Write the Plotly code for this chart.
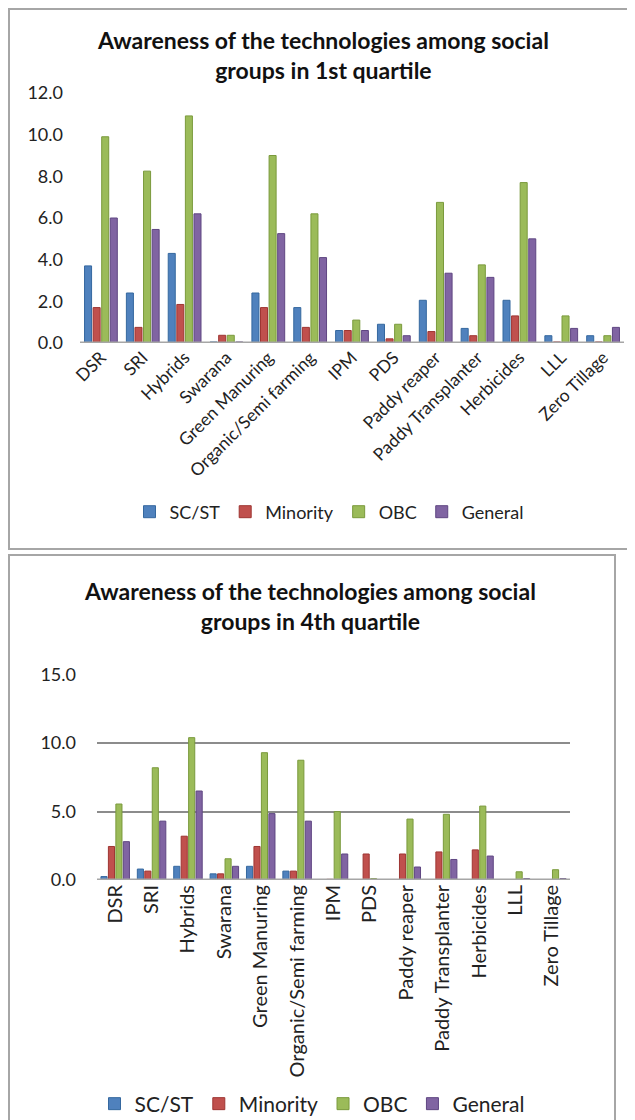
import plotly.graph_objects as go

categories = ["DSR", "SRI", "Hybrids", "Swarana", "Green Manuring", "Organic/Semi farming",
              "IPM", "PDS", "Paddy reaper", "Paddy Transplanter", "Herbicides", "LLL", "Zero Tillage"]
series_names = ["SC/ST", "Minority", "OBC", "General"]

# 1st quartile
q1_scst = [3.7, 2.4, 4.3, 0.05, 2.4, 1.7, 0.6, 0.9, 2.05, 0.7, 2.05, 0.35, 0.35]
q1_minority = [1.7, 0.75, 1.85, 0.37, 1.7, 0.75, 0.6, 0.2, 0.55, 0.35, 1.3, 0.05, 0.05]
q1_obc = [9.9, 8.25, 10.9, 0.37, 9.0, 6.2, 1.1, 0.9, 6.75, 3.75, 7.7, 1.3, 0.35]
q1_general = [6.0, 5.45, 6.2, 0.05, 5.25, 4.1, 0.6, 0.35, 3.35, 3.15, 5.0, 0.7, 0.75]

# 4th quartile
q4_scst = [0.25, 0.8, 1.0, 0.45, 1.0, 0.65, 0.02, 0.02, 0.02, 0.02, 0.02, 0.02, 0.02]
q4_minority = [2.45, 0.65, 3.2, 0.45, 2.45, 0.65, 0.05, 1.9, 1.9, 2.05, 2.2, 0.02, 0.02]
q4_obc = [5.55, 8.2, 10.4, 1.55, 9.3, 8.75, 5.0, 0.1, 4.45, 4.8, 5.4, 0.6, 0.75]
q4_general = [2.8, 4.3, 6.5, 1.0, 4.85, 4.3, 1.9, 0.02, 0.95, 1.5, 1.75, 0.1, 0.1]

colors = ["#4F81BD", "#C0504D", "#9BBB59", "#8064A2"]
edges = ["#35689f", "#9e3532", "#7a9a3c", "#5f4682"]

# the page body has an 8px margin, so the figure starts at (8, 8) in the window
OFF = 8
W, H = 627, 1112
def px_x(p): return (p - OFF) / W
def px_y(p): return 1 - (p - OFF) / H

FONT = "Lato, 'Open Sans', sans-serif"

fig = go.Figure()

q1 = [q1_scst, q1_minority, q1_obc, q1_general]
q4 = [q4_scst, q4_minority, q4_obc, q4_general]

for i, name in enumerate(series_names):
    fig.add_trace(go.Bar(x=categories, y=q1[i], name=name, marker_color=colors[i],
                         marker_line_color=edges[i], marker_line_width=1,
                         xaxis="x", yaxis="y", legend="legend"))
for i, name in enumerate(series_names):
    fig.add_trace(go.Bar(x=categories, y=q4[i], name=name, marker_color=colors[i],
                         marker_line_color=edges[i], marker_line_width=1,
                         xaxis="x2", yaxis="y2", legend="legend2"))

fig.update_layout(
    width=W, height=H,
    margin=dict(l=0, r=0, t=0, b=0, autoexpand=False),
    paper_bgcolor="white", plot_bgcolor="white",
    barmode="group", bargap=0.18, bargroupgap=0.18,
    font=dict(family=FONT, color="#222222"),
    xaxis=dict(domain=[px_x(80), px_x(624)], anchor="y", tickangle=-45,
               tickfont=dict(size=17.5, family=FONT), showgrid=False, showline=False,
               ticks="", ticklen=0),
    yaxis=dict(domain=[px_y(343), px_y(93)], anchor="x", range=[0, 12], dtick=2,
               tickformat=".1f", tickfont=dict(size=18, family=FONT), showgrid=False,
               zeroline=False, showline=False, ticks="", ticklabelstandoff=16),
    xaxis2=dict(domain=[px_x(97), px_x(570)], anchor="y2", tickangle=-90,
                tickfont=dict(size=20, family=FONT), showgrid=False, showline=False,
                ticks="", ticklen=0),
    yaxis2=dict(domain=[px_y(880), px_y(674)], anchor="x2", range=[0, 15.05], dtick=5,
                tickformat=".1f", tickfont=dict(size=18, family=FONT), showgrid=True,
                gridcolor="#8c8c8c", gridwidth=2, zeroline=False, showline=False,
                ticks="", ticklabelstandoff=20),
    legend=dict(orientation="h", x=px_x(329), y=px_y(512), xanchor="center", yanchor="middle",
                font=dict(size=18, family=FONT), traceorder="normal", itemwidth=30,
                bgcolor="rgba(0,0,0,0)"),
    legend2=dict(orientation="h", x=px_x(312), y=px_y(1104), xanchor="center", yanchor="middle",
                 font=dict(size=21, family=FONT), traceorder="normal", itemwidth=30,
                 bgcolor="rgba(0,0,0,0)"),
    annotations=[
        dict(text="<b>Awareness of the technologies among social<br>groups in 1st quartile</b>",
             x=px_x(323), y=px_y(55), xref="paper", yref="paper", showarrow=False,
             xanchor="center", yanchor="middle",
             font=dict(size=23, family=FONT, color="#111111"), align="center"),
        dict(text="<b>Awareness of the technologies among social<br>groups in 4th quartile</b>",
             x=px_x(310), y=px_y(606), xref="paper", yref="paper", showarrow=False,
             xanchor="center", yanchor="middle",
             font=dict(size=23, family=FONT, color="#111111"), align="center"),
    ],
    shapes=[
        dict(type="rect", xref="paper", yref="paper", x0=px_x(9), x1=px_x(632),
             y0=px_y(549), y1=px_y(9), line=dict(color="#a6a6a6", width=2)),
        dict(type="rect", xref="paper", yref="paper", x0=px_x(9), x1=px_x(615),
             y0=px_y(1130), y1=px_y(555), line=dict(color="#a6a6a6", width=2)),
        dict(type="line", xref="x domain", yref="y", x0=0, x1=1, y0=0, y1=0,
             line=dict(color="#a6a6a6", width=3)),
        dict(type="line", xref="x2 domain", yref="y2", x0=0, x1=1, y0=0, y1=0,
             line=dict(color="#a6a6a6", width=3)),
    ],
)

fig.write_html("out.html")
